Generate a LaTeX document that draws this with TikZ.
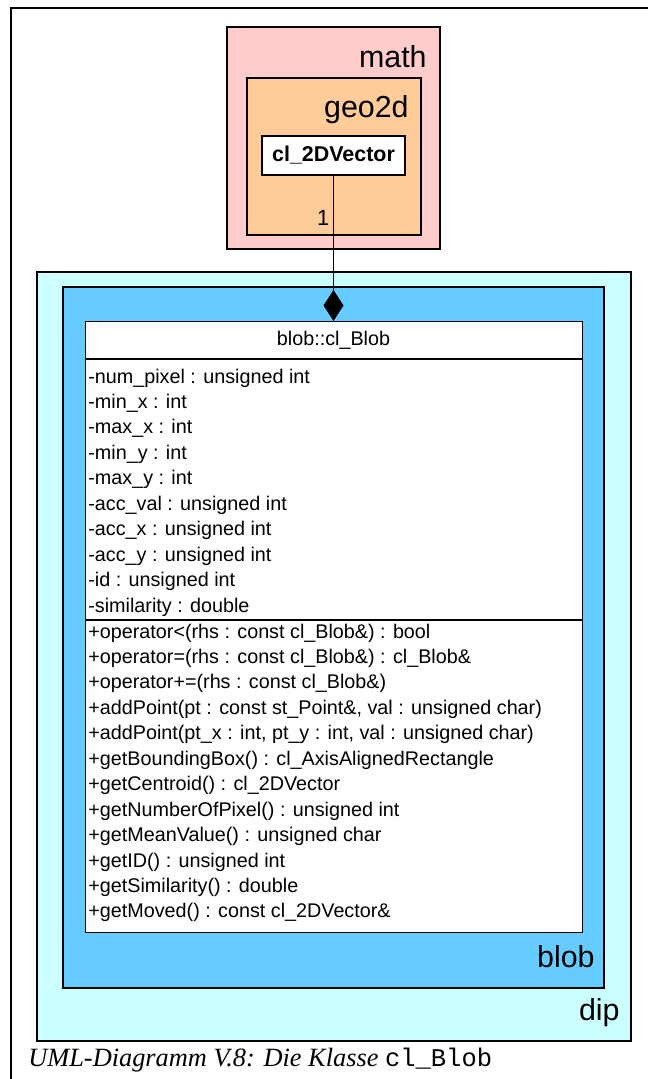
\documentclass[tikz,border=0pt]{standalone}
\usepackage{fontspec}
\setmainfont{Liberation Sans}
\newfontfamily\captionfont{Liberation Serif}
\newfontfamily\codefont{Liberation Mono}
\usetikzlibrary{arrows.meta}
\definecolor{mathpink}{HTML}{FFCCCC}
\definecolor{geoorange}{HTML}{FFCC99}
\definecolor{dipcyan}{HTML}{CCFFFF}
\definecolor{blobblue}{HTML}{66CCFF}
\begin{document}
\begin{tikzpicture}[x=0.02cm, y=-0.02cm,
		pkg/.style={draw, line width=0.6pt},
		pkgname/.style={anchor=base east, inner sep=0pt, font=\fontsize{17.3}{20}\selectfont},
		cls/.style={draw, fill=white, line width=0.6pt, inner sep=0pt},
		member/.style={anchor=base west, inner sep=0pt, font=\fontsize{11.25}{13}\selectfont}]
		\useasboundingbox (0,0) rectangle (648,1079);
		\draw[line width=0.7pt] (648,8) -- (11,8) -- (11,1079);

		% packages
		\draw[pkg, fill=mathpink] (227,27) rectangle (440,249);
		\node[pkgname] (mathname) at (427,67) {math};
		\draw[pkg, fill=geoorange] (247,78) rectangle (421,235);
		\node[pkgname] (geoname) at (409,117) {geo2d};
		\draw[pkg, fill=dipcyan] (37,272) rectangle (631,1041);
		\node[pkgname] (dipname) at (620,1020) {dip};
		\draw[pkg, fill=blobblue] (63,287) rectangle (604,988);
		\node[pkgname] (blobname) at (595,967) {blob};

		% classes
		\node[cls, minimum width=143*0.02cm, minimum height=39*0.02cm, font=\bfseries\fontsize{12.2}{14}\selectfont] (vector) at (333.5,155.5) {cl\_2DVector};
		\node[cls, anchor=north west, minimum width=497*0.02cm, minimum height=611*0.02cm] (blob) at (85,321) {};
		\node[anchor=base, inner sep=0pt, font=\fontsize{11.25}{13}\selectfont] (blobhead) at (333.5,345) {blob::cl\_Blob};
		\draw[line width=0.6pt] (85,359) -- (582,359);
		\draw[line width=0.6pt] (85,620) -- (582,620);

		\foreach \txt [count=\i from 0] in {-num\_pixel : unsigned int, -min\_x : int, -max\_x : int,
			-min\_y : int, -max\_y : int, -acc\_val : unsigned int, -acc\_x : unsigned int,
			-acc\_y : unsigned int, -id : unsigned int, -similarity : double}
			\node[member] (attr\i) at (88,383+25.45*\i) {\txt};

		\foreach \txt [count=\i from 0] in {+operator<(rhs : const cl\_Blob\&) : bool,
			+operator=(rhs : const cl\_Blob\&) : cl\_Blob\&,
			+operator+=(rhs : const cl\_Blob\&),
			{+addPoint(pt : const st\_Point\&, val : unsigned char)},
			{+addPoint(pt\_x : int, pt\_y : int, val : unsigned char)},
			+getBoundingBox() : cl\_AxisAlignedRectangle,
			+getCentroid() : cl\_2DVector,
			+getNumberOfPixel() : unsigned int,
			+getMeanValue() : unsigned char,
			+getID() : unsigned int,
			+getSimilarity() : double,
			+getMoved() : const cl\_2DVector\&}
			\node[member] (op\i) at (88,638+25.45*\i) {\txt};

		% composition
		\draw[line width=0.6pt, -{Diamond[length=31*0.02cm, width=20*0.02cm]}] (vector.south) -- (vector.south |- blob.north)
			node[pos=0.29, anchor=east, inner sep=2pt, font=\fontsize{12.5}{14}\selectfont] {1};

		\node[anchor=base west, inner sep=0pt, font=\captionfont\itshape\fontsize{15}{18}\selectfont] (caption) at (28,1066)
			{UML-Diagramm V.8: Die Klasse {\codefont\upshape\fontsize{14.5}{18}\selectfont cl\_Blob}};
	\end{tikzpicture}
\end{document}
